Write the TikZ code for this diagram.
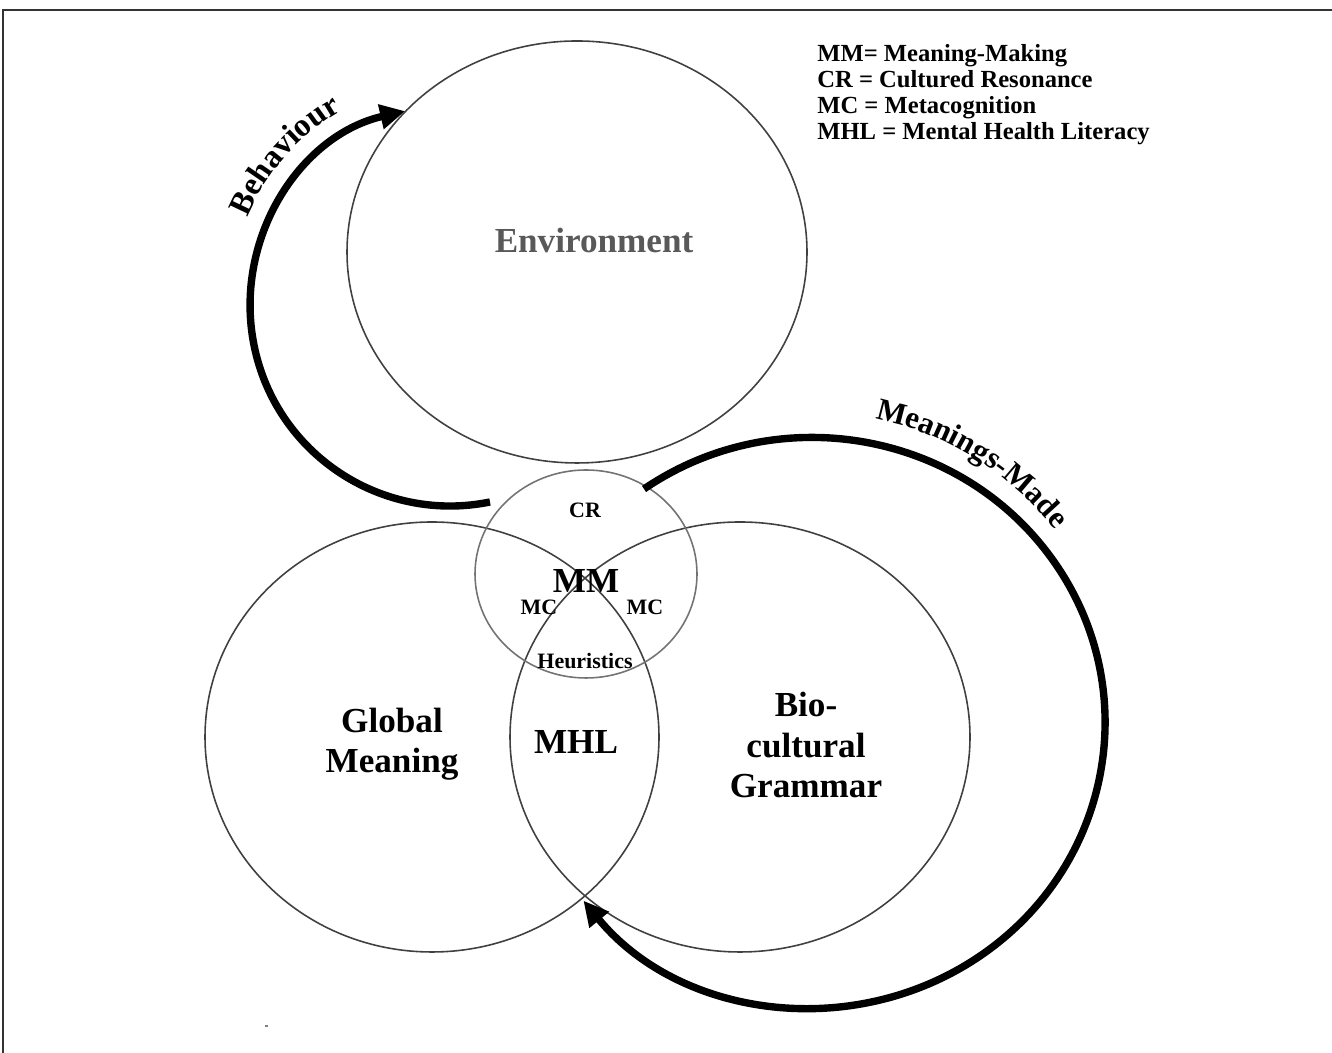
\documentclass[tikz,border=0pt]{standalone}
\usepackage{fontspec}
\setmainfont{Liberation Serif}
\usetikzlibrary{arrows.meta,decorations.text}
\begin{document}
\begin{tikzpicture}[x=0.02cm,y=0.02cm,
	ring/.style={line width=0.9pt,draw=black!75},
	flow/.style={line width=4.2pt,-{Triangle[length=0.5cm,width=0.48cm]}},
	lbl/.style={font=\bfseries\fontsize{20}{23}\selectfont,align=center,inner sep=0pt},
	small/.style={font=\bfseries\fontsize{12.5}{14}\selectfont,inner sep=0pt},
	legend/.style={font=\bfseries\fontsize{14}{15}\selectfont,anchor=base west,inner sep=0pt}]
	\useasboundingbox (0,0) rectangle (1332,1053);
	\draw[line width=1.1pt,black!80] (3,0)--(3,1043)--(1332,1043);
	\coordinate (env) at (577,801);
	\coordinate (cr) at (586,479);
	\coordinate (gm) at (432,316);
	\coordinate (bio) at (740,316);
	\draw[ring] (env) ellipse [x radius=230,y radius=211];
	\draw[ring] (gm) ellipse [x radius=227,y radius=215];
	\draw[ring] (bio) ellipse [x radius=230,y radius=215];
	\draw[ring,draw=black!55] (cr) ellipse [x radius=111,y radius=104];
	\coordinate (behtail) at (490,551);
	\coordinate (madetail) at (644,564);
	\draw[flow] (behtail) arc[start angle=281.5,end angle=103,radius=200];
	\draw[flow] (madetail) arc[start angle=125,end angle=-141.3,x radius=293,y radius=285];
	\path[decorate,decoration={text along path,text align=center,
		text={|\bfseries\fontsize{18.5}{19}\selectfont|Behaviour}}]
		(230.9,766.2) arc[start angle=176,end angle=101,radius=220];
	\path[decorate,decoration={text along path,text align=center,
		text={|\bfseries\fontsize{17.7}{18}\selectfont|Meanings-Made}}]
		(780.7,639.4) arc[start angle=95.8,end angle=20.8,radius=310];
	\node[lbl,text=black!65] (envtxt) at (594,813) {Environment};
	\node[small] (crtxt) at (585,543) {CR};
	\node[font=\bfseries\fontsize{20}{20}\selectfont,inner sep=0pt] (mmtxt) at (586,472) {MM};
	\node[small] (mcleft) at (539,446) {MC};
	\node[small] (mcright) at (645,446) {MC};
	\node[small] (heur) at (585,392) {Heuristics};
	\node[lbl] (mhltxt) at (576,311) {MHL};
	\node[lbl] (gmtxt) at (392,309) {Global\\Meaning};
	\node[lbl] (biotxt) at (806,308) {Bio-\\cultural\\Grammar};
	\node[legend] (legmm) at (817,991) {MM= Meaning-Making};
	\node[legend] (legcr) at (817,965) {CR = Cultured Resonance};
	\node[legend] (legmc) at (817,939) {MC = Metacognition};
	\node[legend] (legmhl) at (817,913) {MHL = Mental Health Literacy};
	\fill[black!50] (265,26) rectangle (268,28);
\end{tikzpicture}
\end{document}
